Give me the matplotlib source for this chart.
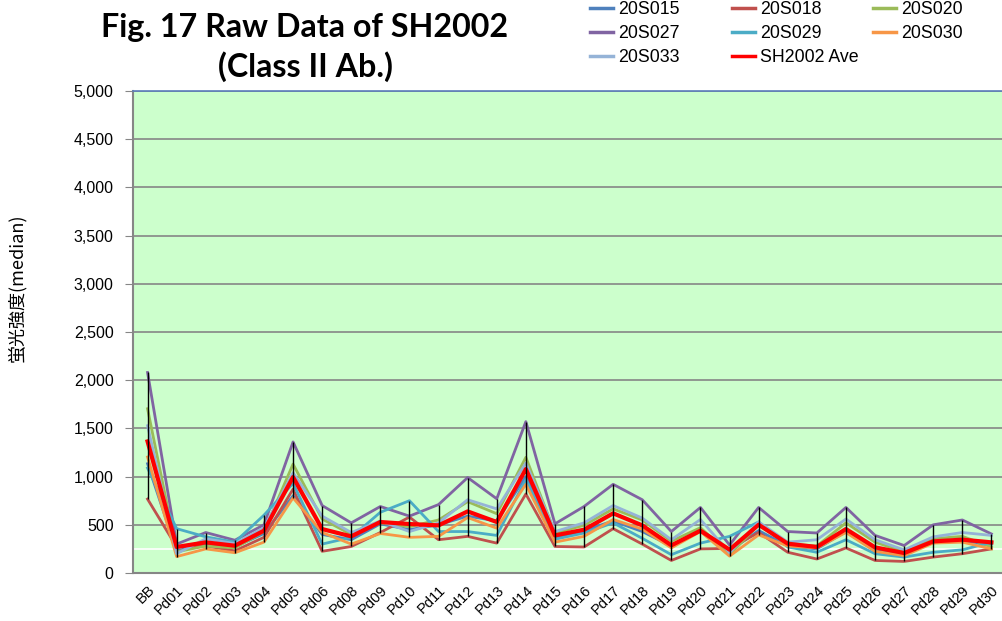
import numpy as np
from matplotlib import pyplot as plt
from matplotlib.lines import Line2D
from matplotlib.ticker import FuncFormatter

# categories & series
cats = ['BB', 'Pd01', 'Pd02', 'Pd03', 'Pd04', 'Pd05', 'Pd06', 'Pd08', 'Pd09', 'Pd10',
        'Pd11', 'Pd12', 'Pd13', 'Pd14', 'Pd15', 'Pd16', 'Pd17', 'Pd18', 'Pd19', 'Pd20',
        'Pd21', 'Pd22', 'Pd23', 'Pd24', 'Pd25', 'Pd26', 'Pd27', 'Pd28', 'Pd29', 'Pd30']

s015 = [1134, 230, 300, 270, 410, 800, 400, 345, 510, 450, 500, 590, 540, 1000, 370,
        440, 540, 430, 280, 450, 230, 440, 280, 250, 430, 230, 200, 330, 330, 300]
s018 = [767, 270, 280, 230, 370, 870, 225, 275, 420, 580, 345, 380, 310, 820, 275,
        270, 460, 300, 130, 250, 255, 420, 215, 145, 260, 130, 120, 165, 200, 250]
s020 = [1704, 220, 280, 260, 430, 1130, 560, 400, 520, 480, 550, 740, 615, 1200, 415,
        495, 665, 550, 330, 470, 190, 500, 300, 280, 520, 320, 220, 355, 380, 270]
s027 = [2080, 300, 420, 340, 500, 1360, 700, 520, 690, 590, 710, 990, 770, 1570, 510,
        690, 920, 760, 430, 680, 290, 680, 430, 415, 680, 390, 285, 500, 550, 405]
s029 = [1089, 460, 375, 320, 600, 930, 300, 370, 630, 750, 430, 430, 390, 970, 350,
        415, 520, 360, 190, 310, 380, 530, 270, 215, 345, 200, 165, 215, 240, 320]
s030 = [1203, 170, 250, 210, 320, 780, 420, 300, 410, 370, 380, 575, 465, 920, 320,
        380, 555, 455, 260, 430, 175, 395, 280, 260, 420, 225, 180, 310, 320, 250]
s033 = [1528, 200, 355, 305, 470, 1040, 590, 420, 540, 430, 520, 760, 665, 1140, 430,
        520, 700, 570, 345, 555, 210, 530, 320, 345, 560, 345, 240, 375, 420, 390]
ave = [1365, 270, 318, 283, 439, 995, 456, 380, 529, 508, 494, 639, 529, 1078, 390,
       449, 619, 494, 287, 439, 242, 501, 304, 270, 456, 266, 207, 328, 346, 318]

names = ['20S015', '20S018', '20S020', '20S027', '20S029', '20S030', '20S033']
series = [s015, s018, s020, s027, s029, s030, s033]
colors = ['#4F81BD', '#C0504D', '#9BBB59', '#8064A2', '#4BACC6', '#F79646', '#95B3D7']

fig = plt.figure(figsize=(10.02, 6.21), dpi=100)
ax = fig.add_axes([133 / 1002, 48 / 621, 873 / 1002, 482 / 621])
ax.set_facecolor('#CCFFCC')

x = np.arange(len(cats))
ax.set_xlim(-0.5, len(cats) - 0.5)
ax.set_ylim(0, 5000)
ax.set_yticks(np.arange(0, 5001, 500))
ax.yaxis.set_major_formatter(FuncFormatter(lambda v, p: f'{int(v):,}'))
ax.grid(axis='y', color='#868686', lw=1.2, zorder=1)
ax.axhline(250, color='white', lw=1.2, zorder=1.5)

for s, c, n in zip(series, colors, names):
    ax.plot(x, s, color=c, lw=2.0, label=n, zorder=3)
ax.plot(x, ave, color='#FF0000', lw=3.0, label='SH2002 Ave', zorder=4)

# high-low lines
allv = np.array(series + [ave])
ax.vlines(x, allv.min(axis=0), allv.max(axis=0), color='black', lw=1, zorder=5)

ax.set_xticks(x)
ax.set_xticklabels(cats, rotation=45, ha='right', rotation_mode='anchor',
                   fontsize=10.5, family='Liberation Sans')
ax.tick_params(axis='x', length=0, pad=7)
ax.tick_params(axis='y', length=6, color='#868686', labelsize=11.5, pad=8)
for lbl in ax.get_yticklabels():
    lbl.set_family('Liberation Sans')
for side in ['left', 'bottom']:
    ax.spines[side].set_color('#868686')
    ax.spines[side].set_linewidth(1.5)
ax.spines['right'].set_visible(False)
ax.spines['top'].set_color('#5A7EBA')
ax.spines['top'].set_linewidth(1.2)

ax.set_ylabel('蛍光強度(median)', family=['Noto Sans CJK JP', 'DejaVu Sans'],
              fontsize=13)
ax.yaxis.set_label_coords(-0.122, 0.591)

fig.text(305 / 1002, 1 - 27 / 621, 'Fig. 17 Raw Data of SH2002', ha='center', va='center',
         fontsize=23.2, fontweight='bold', family='Lato')
fig.text(305 / 1002, 1 - 67 / 621, '(Class II Ab.)', ha='center', va='center',
         fontsize=23.2, fontweight='bold', family='Lato')

# legend in three columns, row-major order
handles = [Line2D([], [], color=c, lw=2.5) for c in colors] + \
          [Line2D([], [], color='#FF0000', lw=2.5)]
labels = names + ['SH2002 Ave']
cols = [[0, 3, 6], [1, 4, 7], [2, 5]]
col_x = [588, 730, 871]
for xs, idx in zip(col_x, cols):
    fig.legend([handles[i] for i in idx], [labels[i] for i in idx],
               loc='upper left', bbox_to_anchor=(xs / 1002, 1 + 1 / 621),
               frameon=False, prop={'family': 'Liberation Sans', 'size': 12.8},
               handlelength=1.3, handletextpad=0.3, labelspacing=0.4, borderpad=0.1,
               borderaxespad=0)

fig.savefig('out.png', dpi=100)
